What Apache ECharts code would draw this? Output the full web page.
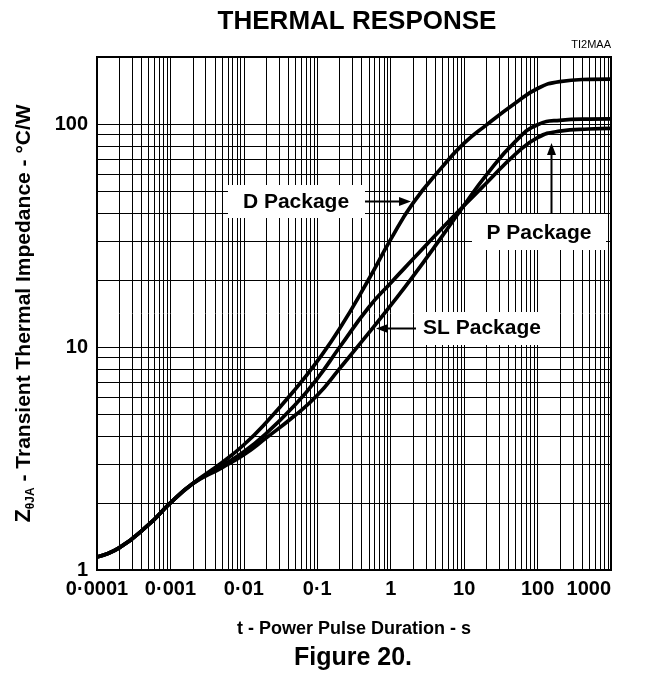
<!DOCTYPE html>
<html><head><meta charset="utf-8">
<script src="https://cdn.jsdelivr.net/npm/echarts@6/dist/echarts.min.js"></script>
<style>html,body{margin:0;padding:0;background:#fff}#c{width:646px;height:677px}</style>
</head><body><div id="c"></div>
<script>
// ---- data ----
const pulseDurations = [1e-4, 2e-4, 5e-4, 1e-3, 2e-3, 5e-3, 0.01, 0.02, 0.05, 0.1, 0.2, 0.5, 1, 2, 5, 10, 20, 50, 100, 200, 500, 1000];
const dPackage  = [1.144, 1.256, 1.593, 2.000, 2.435, 3.026, 3.646, 4.58, 6.46, 8.65, 12.04, 20.1, 30.4, 44.1, 64.1, 82.1, 99.0, 124.3, 144.4, 155.2, 158.8, 159.3];
const pPackage  = [1.144, 1.256, 1.593, 2.000, 2.435, 2.934, 3.39, 4.085, 5.51, 7.22, 9.95, 15.05, 19.39, 24.74, 34.09, 43.14, 54.3, 73.3, 86.98, 93.0, 95.1, 95.6];
const slPackage = [1.144, 1.256, 1.593, 2.000, 2.435, 2.874, 3.288, 3.904, 4.943, 6.073, 7.988, 11.55, 15.37, 20.68, 31.37, 43.29, 59.1, 83.7, 99.4, 104.0, 105.3, 105.5];

const xMajorTicks = [1e-4, 1e-3, 1e-2, 1e-1, 1, 10, 100, 1000];
const xTickLabels = ['0·0001', '0·001', '0·01', '0·1', '1', '10', '100', '1000'];
const yMajorTicks = [1, 10, 100];
const yTickLabels = ['1', '10', '100'];
const minorMultipliers = [2, 3, 4, 5, 6, 7, 8, 9];
const X_MIN = 1e-4, X_MAX = 1000, Y_MIN = 1, Y_MAX = 200;

const FONT = '"Liberation Sans", Arial, Helvetica, sans-serif';

// minor grid values
const xMinor = [];
xMajorTicks.slice(0, -1).forEach(d => minorMultipliers.forEach(m => xMinor.push(+(d * m).toPrecision(6))));
const yMinor = [];
yMajorTicks.forEach(d => minorMultipliers.forEach(m => { const v = d * m; if (v < Y_MAX) yMinor.push(v); }));

function findLabel(v, ticks, labels) {
  for (let i = 0; i < ticks.length; i++) {
    if (Math.abs(Math.log10(v) - Math.log10(ticks[i])) < 1e-6) return labels[i];
  }
  return '';
}

const lineStyle = { color: '#000', width: 3.7 };
function mkLine(name, vals) {
  return {
    name, type: 'line', smooth: 0.5, showSymbol: false, symbol: 'none', z: 5,
    lineStyle, data: pulseDurations.map((t, i) => [t, vals[i]]), silent: true
  };
}

const chart = echarts.init(document.getElementById('c'), null, { renderer: 'canvas' });
chart.setOption({
  animation: false,
  backgroundColor: '#fff',
  textStyle: { fontFamily: FONT },
  title: [
    { text: 'THERMAL RESPONSE', left: 352, top: 4, textAlign: 'center',
      textStyle: { fontFamily: FONT, fontSize: 26, fontWeight: 'bold', color: '#000' } },
    { text: 'TI2MAA', left: 606, top: 34, textAlign: 'right',
      textStyle: { fontFamily: FONT, fontSize: 11, fontWeight: 'normal', color: '#000' } },
    { text: 'Figure 20.', left: 348, top: 641, textAlign: 'center',
      textStyle: { fontFamily: FONT, fontSize: 25, fontWeight: 'bold', color: '#000' } }
  ],
  grid: { left: 97, right: 35, top: 57, bottom: 107, show: true, borderColor: '#000', borderWidth: 2, backgroundColor: 'transparent' },
  xAxis: {
    type: 'log', logBase: 10, min: X_MIN, max: X_MAX, splitNumber: 7,
    axisLine: { show: true, onZero: false, lineStyle: { color: '#000', width: 2 } },
    axisTick: { show: false },
    axisLabel: { color: '#000', fontFamily: FONT, fontWeight: 'bold', fontSize: 20, margin: 9,
      alignMaxLabel: 'right',
      formatter: v => findLabel(v, xMajorTicks, xTickLabels) },
    splitLine: { show: true, lineStyle: { color: '#000', width: 1 } },
    name: 't - Power Pulse Duration - s', nameLocation: 'middle', nameGap: 50,
    nameTextStyle: { color: '#000', fontFamily: FONT, fontWeight: 'bold', fontSize: 18 }
  },
  yAxis: {
    type: 'log', logBase: 10, min: Y_MIN, max: Y_MAX,
    axisLine: { show: true, lineStyle: { color: '#000', width: 2 } },
    axisTick: { show: false },
    axisLabel: { color: '#000', fontFamily: FONT, fontWeight: 'bold', fontSize: 20, margin: 9,
      formatter: v => findLabel(v, yMajorTicks, yTickLabels) },
    splitLine: { show: true, lineStyle: { color: '#000', width: 1 } },
    name: '{z|Z}{s|θJA}{n| - Transient Thermal Impedance - °C/W}',
    nameLocation: 'middle', nameRotate: 90, nameGap: 60,
    nameTextStyle: {
      color: '#000', fontFamily: FONT, fontWeight: 'bold', fontSize: 21,
      rich: {
        z: { fontFamily: FONT, fontWeight: 'bold', fontSize: 22, color: '#000', lineHeight: 26, verticalAlign: 'middle' },
        s: { fontFamily: FONT, fontWeight: 'bold', fontSize: 12, color: '#000', lineHeight: 26, verticalAlign: 'bottom' },
        n: { fontFamily: FONT, fontWeight: 'bold', fontSize: 21, color: '#000', lineHeight: 26, verticalAlign: 'middle' }
      }
    }
  },
  series: [
    {
      type: 'custom', silent: true, z: 1, clip: true,
      data: xMinor.map(v => [v, Y_MIN]),
      renderItem: (params, api) => {
        const a = api.coord([api.value(0), Y_MIN]);
        const b = api.coord([api.value(0), Y_MAX]);
        const px = Math.round(a[0]) + 0.5;
        return { type: 'line', shape: { x1: px, y1: a[1], x2: px, y2: b[1] }, style: { stroke: '#000', lineWidth: 1 } };
      }
    },
    {
      type: 'custom', silent: true, z: 1, clip: true,
      data: yMinor.map(v => [X_MIN, v]),
      renderItem: (params, api) => {
        const a = api.coord([X_MIN, api.value(1)]);
        const b = api.coord([X_MAX, api.value(1)]);
        const py = Math.round(a[1]) + 0.5;
        return { type: 'line', shape: { x1: a[0], y1: py, x2: b[0], y2: py }, style: { stroke: '#000', lineWidth: 1 } };
      }
    },
    mkLine('D Package', dPackage),
    mkLine('P Package', pPackage),
    mkLine('SL Package', slPackage)
  ],
  graphic: [
    // D Package label + arrow
    { type: 'rect', z: 100, shape: { x: 228, y: 185, width: 137, height: 33 }, style: { fill: '#fff' } },
    { type: 'text', z: 101, x: 296, y: 202, style: { text: 'D Package', font: 'bold 21px ' + FONT, fill: '#000', align: 'center', verticalAlign: 'middle' } },
    { type: 'line', z: 101, shape: { x1: 365, y1: 201.5, x2: 402, y2: 201.5 }, style: { stroke: '#000', lineWidth: 2 } },
    { type: 'polygon', z: 101, shape: { points: [[411, 201.5], [399, 197], [399, 206]] }, style: { fill: '#000' } },
    // P Package label + arrow
    { type: 'rect', z: 100, shape: { x: 472, y: 214, width: 134, height: 36 }, style: { fill: '#fff' } },
    { type: 'text', z: 101, x: 539, y: 233, style: { text: 'P Package', font: 'bold 21px ' + FONT, fill: '#000', align: 'center', verticalAlign: 'middle' } },
    { type: 'line', z: 101, shape: { x1: 551.5, y1: 214, x2: 551.5, y2: 152 }, style: { stroke: '#000', lineWidth: 2 } },
    { type: 'polygon', z: 101, shape: { points: [[551.5, 143], [547, 155], [556, 155]] }, style: { fill: '#000' } },
    // SL Package label + arrow
    { type: 'rect', z: 100, shape: { x: 415, y: 312, width: 137, height: 33 }, style: { fill: '#fff' } },
    { type: 'text', z: 101, x: 482, y: 328, style: { text: 'SL Package', font: 'bold 21px ' + FONT, fill: '#000', align: 'center', verticalAlign: 'middle' } },
    { type: 'line', z: 101, shape: { x1: 416, y1: 328.5, x2: 386, y2: 328.5 }, style: { stroke: '#000', lineWidth: 2 } },
    { type: 'polygon', z: 101, shape: { points: [[376, 328.5], [388, 324], [388, 333]] }, style: { fill: '#000' } }
  ]
});
</script>
</body></html>
